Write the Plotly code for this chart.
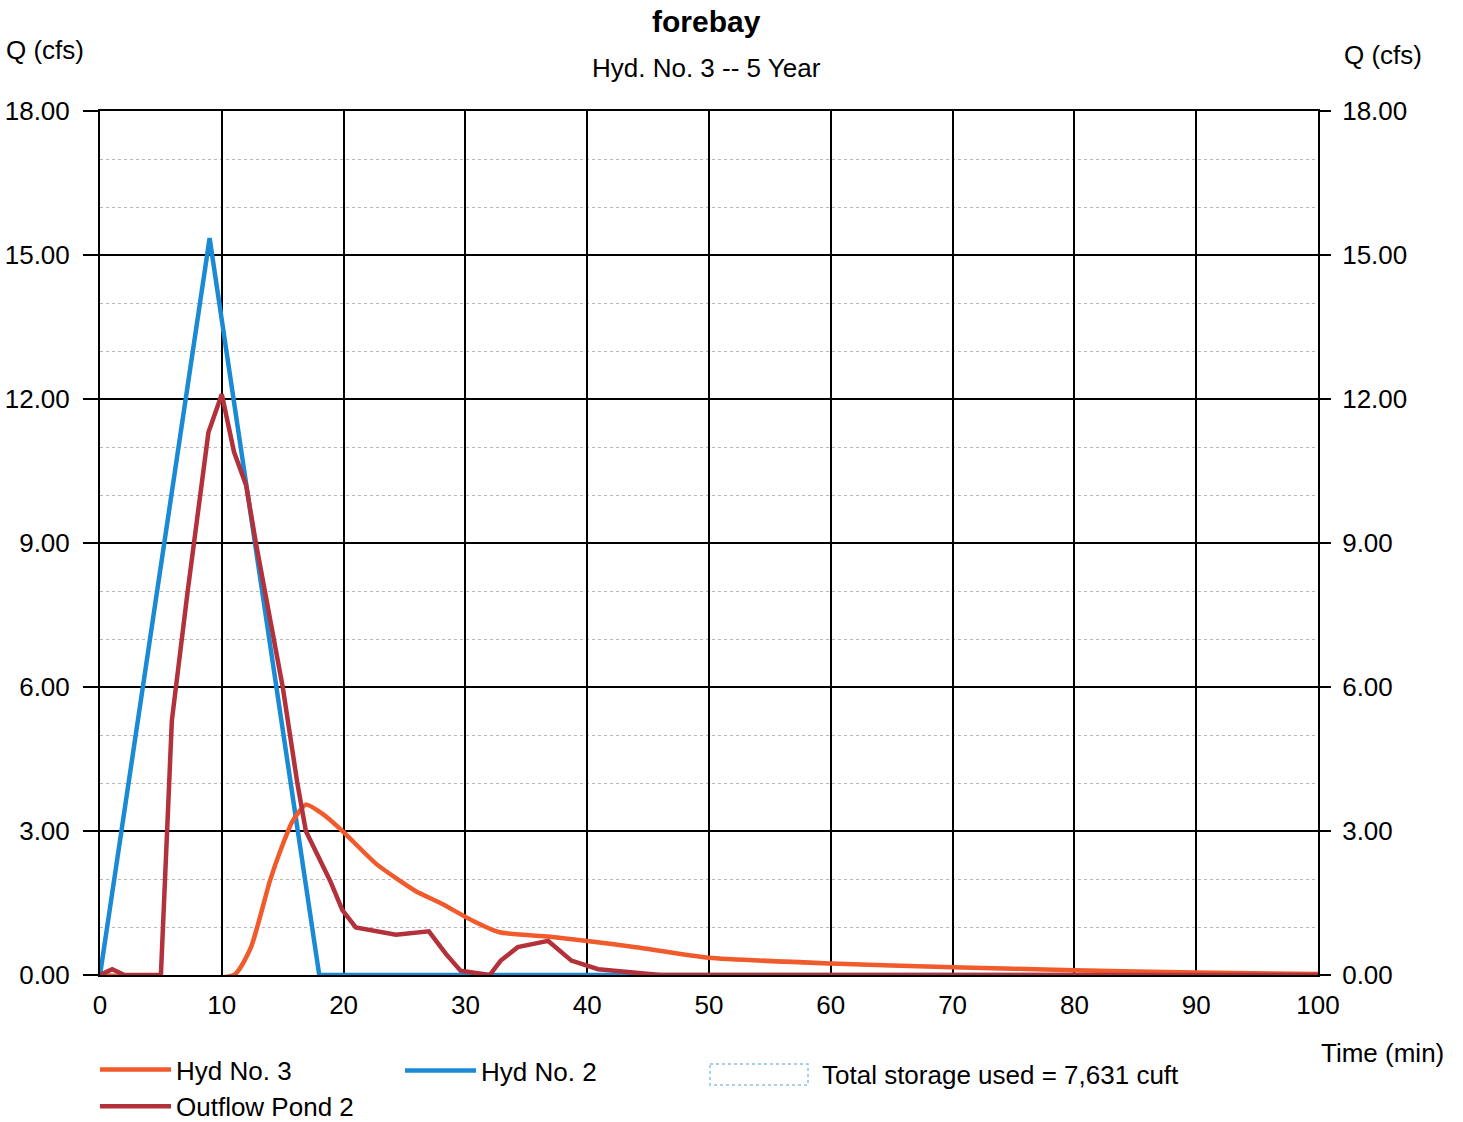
import plotly.graph_objects as go

# ---- data ----
hyd2_t = [0, 9, 18, 100]
hyd2_q = [0, 15.35, 0, 0]

pond2_t = [0, 1, 2, 5, 5.9, 7.2, 8.9, 10, 11, 12, 12.8, 15.0, 16.2, 16.9, 18.9, 19.9, 21.0,
           24.3, 27.0, 28.4, 29.6, 32.0, 32.9, 34.3, 36.8, 38.7, 40.9, 46, 100]
pond2_q = [0, 0.12, 0, 0, 5.3, 8.0, 11.3, 12.1, 10.9, 10.2, 9.0, 6.0, 4.0, 3.0, 1.96, 1.35, 0.99,
           0.84, 0.91, 0.44, 0.09, 0.0, 0.3, 0.58, 0.71, 0.3, 0.12, 0.0, 0.0]

hyd3_t = [0, 11.0, 12.4, 13.95, 14.9, 15.8, 16.9, 18.3, 19.9, 22.7, 25.9, 28.1, 30.6, 32.8,
          36.8, 40.0, 44, 50, 60, 70, 80, 90, 100]
hyd3_q = [0, 0, 0.58, 1.96, 2.65, 3.2, 3.55, 3.35, 3.0, 2.31, 1.75, 1.48, 1.13, 0.89,
          0.8, 0.71, 0.58, 0.36, 0.24, 0.16, 0.10, 0.05, 0.02]

x_ticks = list(range(0, 101, 10))
y_ticks = [0, 3, 6, 9, 12, 15, 18]

C_ORANGE = "#f15a2b"
C_RED = "#b3313a"
C_BLUE = "#1a8ad4"
FONT = "Liberation Sans, Arial, sans-serif"

fig = go.Figure()
fig.add_trace(go.Scatter(x=hyd2_t, y=hyd2_q, mode="lines", name="Hyd No. 2",
                         line=dict(color=C_BLUE, width=4.5), legend="legend2"))
fig.add_trace(go.Scatter(x=hyd3_t, y=hyd3_q, mode="lines", name="Hyd No. 3",
                         line=dict(color=C_ORANGE, width=4.5, shape="spline", smoothing=0.5),
                         legend="legend", legendgroup="h3", legendrank=1))
fig.add_trace(go.Scatter(x=pond2_t, y=pond2_q, mode="lines", name="Outflow Pond 2",
                         line=dict(color=C_RED, width=4.5), legend="legend",
                         legendgroup="p2", legendrank=2))
# invisible trace so the right-hand axis is drawn
fig.add_trace(go.Scatter(x=[0, 100], y=[0, 0], yaxis="y2", mode="lines",
                         line=dict(color="rgba(0,0,0,0)", width=0), showlegend=False,
                         hoverinfo="skip"))

L, R, T, B = 100, 145, 111, 147
W, H = 1463, 1122
pw = W - L - R
ph = H - T - B


def px(xp):
    return (xp - L) / pw


def py(yp):
    return (H - B - yp) / ph


axis_common = dict(showline=True, linecolor="black", linewidth=2, mirror=True,
                   showgrid=True, gridcolor="black", gridwidth=2, zeroline=False,
                   automargin=False,
                   tickfont=dict(size=26, color="black", family=FONT))

fig.update_layout(
    width=W, height=H,
    margin=dict(l=L, r=R, t=T, b=B, autoexpand=False),
    plot_bgcolor="white", paper_bgcolor="white",
    font=dict(family=FONT, color="black", size=26),
    xaxis=dict(range=[0, 100], tickvals=x_ticks, ticks="", ticklabelstandoff=6,
               **axis_common),
    yaxis=dict(range=[0, 18], tickvals=y_ticks, tickformat=".2f", ticks="outside",
               ticklen=15, tickwidth=2, tickcolor="black", ticklabelstandoff=8,
               minor=dict(dtick=1, showgrid=True, gridcolor="#b8b8b8", griddash="dot",
                          gridwidth=1),
               **axis_common),
    yaxis2=dict(range=[0, 18], tickvals=y_ticks, tickformat=".2f", overlaying="y",
                side="right", ticks="outside", ticklen=12, tickwidth=2, tickcolor="black",
                showgrid=False, zeroline=False, showline=False, ticklabelstandoff=6,
                automargin=False,
                tickfont=dict(size=26, color="black", family=FONT)),
    legend=dict(x=px(95), y=py(1046), xanchor="left", yanchor="top",
                orientation="v", font=dict(size=26, family=FONT), itemwidth=71,
                tracegroupgap=0, bgcolor="rgba(0,0,0,0)", borderwidth=0),
    legend2=dict(x=px(400), y=py(1047), xanchor="left", yanchor="top",
                 orientation="v", font=dict(size=26, family=FONT), itemwidth=71,
                 bgcolor="rgba(0,0,0,0)", borderwidth=0),
    showlegend=True,
)

ann = [
    dict(text="<b>forebay</b>", x=px(706), y=py(22), font=dict(size=30)),
    dict(text="Hyd. No. 3 -- 5 Year", x=px(706), y=py(68), font=dict(size=26)),
    dict(text="Q (cfs)", x=px(45), y=py(50), font=dict(size=26)),
    dict(text="Q (cfs)", x=px(1383), y=py(55), font=dict(size=26)),
    dict(text="Time (min)", x=px(1382), y=py(1053), font=dict(size=26)),
    dict(text="Total storage used = 7,631 cuft", x=px(820), y=py(1075), xanchor="left",
         font=dict(size=26)),
]
for a in ann:
    a.setdefault("xanchor", "center")
    fig.add_annotation(xref="paper", yref="paper", yanchor="middle", showarrow=False,
                       **a)

fig.add_shape(type="rect", xref="paper", yref="paper",
              x0=px(710), x1=px(808), y0=py(1064), y1=py(1085),
              line=dict(color="#8fc0de", width=1.5, dash="dot"), fillcolor="white")

fig.write_html("out.html", config={"displayModeBar": False},
               post_script="document.body.style.margin='0';document.body.style.overflow='hidden';")
